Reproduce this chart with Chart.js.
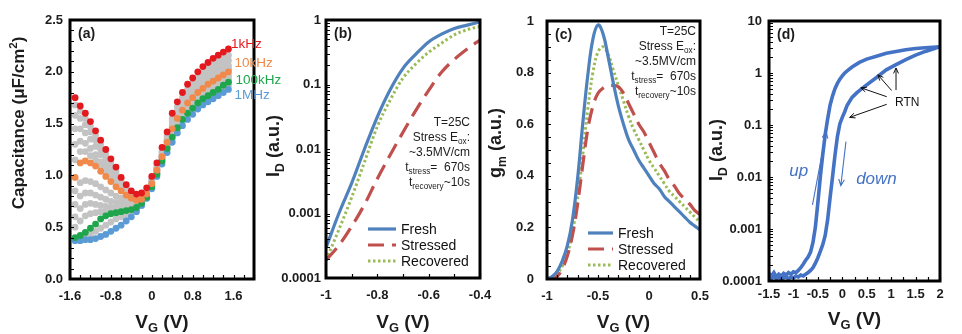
<!DOCTYPE html>
<html>
<head>
<meta charset="utf-8">
<script src="https://cdn.jsdelivr.net/npm/chart.js@4.4.0/dist/chart.umd.min.js"></script>
<style>
  html, body { margin: 0; padding: 0; background: #fff; }
  #wrap { position: relative; width: 962px; height: 334px; }
  #wrap canvas { position: absolute; left: 0; top: 0; }
</style>
</head>
<body>
<div id="wrap">
  <canvas id="cvA" width="962" height="334"></canvas>
  <canvas id="cvB" width="962" height="334"></canvas>
  <canvas id="cvC" width="962" height="334"></canvas>
  <canvas id="cvD" width="962" height="334"></canvas>
</div>
<script>
// ---- (a) C-V sweeps, one value per gate voltage step ----
const cvVoltage = [-1.5, -1.4, -1.3, -1.2, -1.1, -1.0, -0.9, -0.8, -0.7, -0.6, -0.5, -0.4, -0.3, -0.2, -0.1,
  0, 0.1, 0.2, 0.3, 0.4, 0.5, 0.6, 0.7, 0.8, 0.9, 1.0, 1.1, 1.2, 1.3, 1.4, 1.5];
const cap1kHz = [1.75, 1.67, 1.60, 1.52, 1.43, 1.34, 1.25, 1.16, 1.08, 0.98, 0.91, 0.85, 0.82, 0.83, 0.88,
  0.99, 1.12, 1.27, 1.42, 1.60, 1.71, 1.80, 1.88, 1.94, 2.00, 2.05, 2.09, 2.13, 2.16, 2.19, 2.22];
const cap10kHz = [0.98, 1.12, 1.14, 1.12, 1.09, 1.04, 0.99, 0.94, 0.89, 0.85, 0.81, 0.78, 0.76, 0.77, 0.82,
  0.92, 1.05, 1.18, 1.32, 1.45, 1.55, 1.63, 1.70, 1.75, 1.80, 1.84, 1.88, 1.91, 1.94, 1.97, 2.00];
const cap100kHz = [0.40, 0.42, 0.45, 0.49, 0.53, 0.58, 0.61, 0.63, 0.64, 0.65, 0.66, 0.67, 0.69, 0.73, 0.79,
  0.89, 1.01, 1.14, 1.26, 1.37, 1.46, 1.54, 1.60, 1.65, 1.70, 1.74, 1.77, 1.80, 1.83, 1.87, 1.90];
const cap1MHz = [0.37, 0.37, 0.38, 0.38, 0.39, 0.41, 0.43, 0.46, 0.49, 0.52, 0.56, 0.60, 0.65, 0.71, 0.78,
  0.87, 0.99, 1.11, 1.22, 1.32, 1.41, 1.48, 1.54, 1.59, 1.64, 1.68, 1.71, 1.74, 1.77, 1.80, 1.83];
// intermediate frequencies (grey)
const capGrey = [
  [1.68, 1.62, 1.55, 1.47, 1.39, 1.30, 1.21, 1.12, 1.04, 0.96, 0.89, 0.83, 0.80, 0.80, 0.85,
   0.96, 1.09, 1.23, 1.38, 1.55, 1.66, 1.75, 1.83, 1.89, 1.95, 1.99, 2.03, 2.07, 2.10, 2.13, 2.16],
  [1.58, 1.55, 1.49, 1.42, 1.34, 1.25, 1.17, 1.08, 1.01, 0.93, 0.87, 0.81, 0.78, 0.78, 0.84,
   0.95, 1.08, 1.22, 1.36, 1.52, 1.62, 1.71, 1.78, 1.84, 1.90, 1.94, 1.98, 2.02, 2.05, 2.08, 2.11],
  [1.45, 1.45, 1.41, 1.35, 1.28, 1.20, 1.12, 1.05, 0.98, 0.91, 0.85, 0.80, 0.77, 0.77, 0.83,
   0.94, 1.07, 1.20, 1.34, 1.49, 1.59, 1.68, 1.75, 1.81, 1.86, 1.90, 1.94, 1.97, 2.00, 2.03, 2.06],
  [1.30, 1.33, 1.31, 1.26, 1.20, 1.13, 1.07, 1.01, 0.95, 0.89, 0.84, 0.79, 0.76, 0.77, 0.82,
   0.93, 1.06, 1.19, 1.33, 1.47, 1.57, 1.66, 1.73, 1.78, 1.83, 1.87, 1.91, 1.94, 1.97, 2.00, 2.03],
  [1.15, 1.23, 1.23, 1.19, 1.15, 1.09, 1.03, 0.97, 0.92, 0.87, 0.82, 0.78, 0.76, 0.77, 0.82,
   0.92, 1.05, 1.18, 1.32, 1.46, 1.56, 1.64, 1.71, 1.77, 1.82, 1.86, 1.90, 1.93, 1.96, 1.99, 2.02],
  [0.85, 0.93, 0.95, 0.94, 0.92, 0.89, 0.86, 0.83, 0.80, 0.78, 0.76, 0.75, 0.74, 0.75, 0.80,
   0.91, 1.04, 1.17, 1.30, 1.43, 1.53, 1.61, 1.67, 1.72, 1.77, 1.81, 1.85, 1.88, 1.91, 1.94, 1.97],
  [0.72, 0.80, 0.83, 0.83, 0.81, 0.79, 0.77, 0.75, 0.74, 0.73, 0.72, 0.72, 0.72, 0.74, 0.79,
   0.90, 1.03, 1.16, 1.29, 1.41, 1.51, 1.59, 1.65, 1.70, 1.75, 1.79, 1.82, 1.85, 1.88, 1.91, 1.94],
  [0.60, 0.68, 0.72, 0.73, 0.72, 0.71, 0.70, 0.69, 0.69, 0.69, 0.69, 0.69, 0.70, 0.73, 0.79,
   0.90, 1.03, 1.16, 1.28, 1.40, 1.49, 1.57, 1.63, 1.68, 1.73, 1.77, 1.80, 1.83, 1.86, 1.89, 1.92],
  [0.50, 0.56, 0.61, 0.63, 0.64, 0.65, 0.65, 0.66, 0.66, 0.67, 0.67, 0.68, 0.69, 0.72, 0.78,
   0.89, 1.02, 1.15, 1.27, 1.38, 1.48, 1.56, 1.62, 1.67, 1.72, 1.76, 1.79, 1.82, 1.85, 1.88, 1.91],
  [0.38, 0.39, 0.41, 0.43, 0.46, 0.49, 0.52, 0.55, 0.58, 0.60, 0.62, 0.64, 0.67, 0.71, 0.78,
   0.88, 1.01, 1.13, 1.25, 1.35, 1.44, 1.52, 1.58, 1.63, 1.68, 1.72, 1.75, 1.78, 1.81, 1.84, 1.87]
];
const freqLabels = ['1kHz', '10kHz', '100kHz', '1MHz'];
const freqLabelPos = [[1.55, 2.28], [1.62, 2.09], [1.64, 1.93], [1.62, 1.78]];
const aTicksX = [-1.6, -0.8, 0, 0.8, 1.6];
const aTicksY = [0, 0.5, 1.0, 1.5, 2.0, 2.5];

// ---- (b) transfer curves ----
const idVg = [-1, -0.95, -0.9, -0.85, -0.8, -0.75, -0.7, -0.65, -0.6, -0.55, -0.5, -0.45, -0.4];
const idFresh = [2.95e-4, 1.0e-3, 2.95e-3, 1.0e-2, 3.16e-2, 8.3e-2, 0.178, 0.295, 0.457, 0.603, 0.741, 0.832, 0.933];
const idStressed = [1.9e-4, 3.2e-4, 6.3e-4, 1.38e-3, 3.47e-3, 8.1e-3, 1.82e-2, 3.98e-2, 8.1e-2, 0.155, 0.245, 0.355, 0.49];
const idRecovered = [1.9e-4, 5.6e-4, 1.78e-3, 6.3e-3, 2.24e-2, 5.75e-2, 0.126, 0.209, 0.316, 0.437, 0.589, 0.708, 0.794];
const bTicksX = [-1, -0.8, -0.6, -0.4];
const bTicksY = [1e-4, 1e-3, 1e-2, 1e-1, 1];

// ---- (c) transconductance ----
const gmVg = [-1, -0.95, -0.9, -0.85, -0.8, -0.75, -0.7, -0.65, -0.6, -0.55, -0.5, -0.45, -0.4, -0.35, -0.3, -0.25,
  -0.2, -0.15, -0.1, -0.05, 0, 0.05, 0.1, 0.15, 0.2, 0.25, 0.3, 0.35, 0.4, 0.45, 0.5];
const gmFresh = [0.0, 0.01, 0.03, 0.07, 0.13, 0.23, 0.39, 0.60, 0.79, 0.93, 0.985, 0.95, 0.86, 0.76, 0.67, 0.60,
  0.54, 0.50, 0.46, 0.43, 0.40, 0.37, 0.35, 0.32, 0.30, 0.28, 0.26, 0.24, 0.22, 0.205, 0.19];
const gmStressed = [0, 0, 0.01, 0.04, 0.09, 0.17, 0.29, 0.44, 0.58, 0.67, 0.72, 0.74, 0.75, 0.75, 0.745, 0.72,
  0.68, 0.64, 0.60, 0.57, 0.53, 0.49, 0.45, 0.42, 0.385, 0.36, 0.33, 0.31, 0.29, 0.265, 0.25];
const gmRecovered = [0, 0.005, 0.02, 0.05, 0.10, 0.18, 0.31, 0.48, 0.66, 0.80, 0.88, 0.90, 0.87, 0.81, 0.75, 0.69,
  0.63, 0.58, 0.54, 0.50, 0.46, 0.43, 0.40, 0.37, 0.34, 0.32, 0.30, 0.28, 0.26, 0.24, 0.22];
const cTicksX = [-1, -0.5, 0, 0.5];
const cTicksY = [0, 0.2, 0.4, 0.6, 0.8, 1];

// ---- (d) up / down sweeps with RTN ----
const upVg = [-1.5, -1.45, -1.4, -1.35, -1.3, -1.25, -1.2, -1.15, -1.1, -1.05, -1.0, -0.95, -0.9, -0.85, -0.8, -0.75,
  -0.7, -0.65, -0.6, -0.55, -0.5, -0.45, -0.4, -0.35, -0.3, -0.25, -0.2, -0.15, -0.1, -0.05, 0,
  0.05, 0.1, 0.2, 0.35, 0.5, 0.7, 0.9, 1.1, 1.3, 1.5, 1.7, 2.0];
const upId = [1.4e-4, 1.25e-4, 1.45e-4, 1.2e-4, 1.35e-4, 1.25e-4, 1.4e-4, 1.3e-4, 1.45e-4, 1.35e-4, 1.5e-4, 1.45e-4,
  1.6e-4, 1.8e-4, 2.1e-4, 2.5e-4, 2.9e-4, 3.6e-4, 5.5e-4, 1.1e-3, 3.2e-3, 1.0e-2, 2.7e-2, 6.5e-2, 0.13, 0.24,
  0.36, 0.50, 0.63, 0.76, 0.88, 1.0, 1.1, 1.3, 1.6, 1.85, 2.1, 2.4, 2.6, 2.8, 2.95, 3.05, 3.2];
const downVg = [-1.5, -1.45, -1.4, -1.35, -1.3, -1.25, -1.2, -1.15, -1.1, -1.05, -1.0, -0.95, -0.9, -0.85, -0.8, -0.75,
  -0.7, -0.65, -0.6, -0.55, -0.5, -0.45, -0.4, -0.35, -0.3, -0.25, -0.2, -0.15, -0.1, -0.05, 0,
  0.05, 0.1, 0.2, 0.3, 0.4, 0.5, 0.7, 0.9, 1.1, 1.3, 1.5, 1.7, 1.9, 2.0];
const downId = [1.2e-4, 1.1e-4, 1.25e-4, 1.1e-4, 1.2e-4, 1.05e-4, 1.15e-4, 1.2e-4, 1.1e-4, 1.2e-4, 1.15e-4, 1.25e-4,
  1.2e-4, 1.3e-4, 1.25e-4, 1.35e-4, 1.45e-4, 1.6e-4, 1.8e-4, 2.2e-4, 2.8e-4, 3.7e-4, 5.0e-4, 7.5e-4, 1.5e-3, 4.0e-3,
  1.0e-2, 2.6e-2, 6.0e-2, 0.105, 0.14, 0.18, 0.24, 0.34, 0.42, 0.50, 0.59, 0.82, 1.15, 1.45, 1.8, 2.2, 2.6, 3.0, 3.2];
const rtnTips = [[1.10, 1.25], [0.73, 0.92], [0.38, 0.52], [0.15, 0.14]];
const rtnTails = [[1.10, 0.47], [1.01, 0.46], [0.91, 0.35], [0.91, 0.25]];
const dTicksX = [-1.5, -1, -0.5, 0, 0.5, 1, 1.5, 2];
const dTicksY = [1e-4, 1e-3, 1e-2, 1e-1, 1, 10];

const FONT = "'Liberation Sans', Arial, Helvetica, sans-serif";
const INK = '#1c1c1c';
const W = 962, H = 334;

// draws a run of text pieces; a piece is [text] or [text, 'sub'|'sup']
function richText(ctx, parts, x, y, o) {
  const size = o.size;
  const font = s => `${o.style || 'normal'} ${o.weight || 'normal'} ${s}px ${FONT}`;
  const pieces = parts.map(p => {
    const kind = p[1] || '';
    const s = kind ? size * 0.68 : size;
    ctx.font = font(s);
    return { t: p[0], kind, s, w: ctx.measureText(p[0]).width };
  });
  const total = pieces.reduce((acc, p) => acc + p.w, 0);
  ctx.save();
  ctx.translate(x, y);
  if (o.angle) ctx.rotate(o.angle);
  ctx.fillStyle = o.color || INK;
  ctx.textBaseline = 'alphabetic';
  ctx.textAlign = 'left';
  let cx = o.align === 'left' ? 0 : o.align === 'right' ? -total : -total / 2;
  pieces.forEach(p => {
    ctx.font = font(p.s);
    let dy = size * 0.36;
    if (p.kind === 'sub') dy += size * 0.24;
    if (p.kind === 'sup') dy -= size * 0.42;
    ctx.fillText(p.t, cx, dy);
    cx += p.w;
  });
  ctx.restore();
}

function arrow(ctx, x0, y0, x1, y1, head) {
  const ang = Math.atan2(y1 - y0, x1 - x0);
  ctx.beginPath();
  ctx.moveTo(x0, y0);
  ctx.lineTo(x1, y1);
  ctx.moveTo(x1 - head * Math.cos(ang - 0.42), y1 - head * Math.sin(ang - 0.42));
  ctx.lineTo(x1, y1);
  ctx.lineTo(x1 - head * Math.cos(ang + 0.42), y1 - head * Math.sin(ang + 0.42));
  ctx.stroke();
}

function steps(from, to, step) {
  const out = [];
  for (let v = from; v <= to + 1e-9; v += step) out.push(+v.toFixed(4));
  return out;
}

function logMinors(lo, hi) {
  const out = [];
  for (let d = lo; d < hi; d++) {
    for (let k = 1; k <= 9; k++) out.push(k * Math.pow(10, d));
  }
  out.push(Math.pow(10, hi));
  return out;
}

// frame, inward tick marks, titles and per-panel annotations
const panelDecor = {
  id: 'panelDecor',
  afterDatasetsDraw(chart, args, o) {
    const { ctx, chartArea: a } = chart;
    const sx = chart.scales.x, sy = chart.scales.y;
    ctx.save();
    ctx.strokeStyle = '#000';
    ctx.lineWidth = 1.2;
    ctx.beginPath();
    o.xMarks.forEach(v => {
      const p = Math.round(sx.getPixelForValue(v)) + 0.5;
      ctx.moveTo(p, a.bottom);
      ctx.lineTo(p, a.bottom - o.tick);
    });
    o.yMarks.forEach(v => {
      const p = Math.round(sy.getPixelForValue(v)) + 0.5;
      ctx.moveTo(a.left, p);
      ctx.lineTo(a.left + o.tick, p);
    });
    ctx.stroke();
    ctx.lineWidth = 3;
    ctx.strokeRect(a.left, a.top, a.width, a.height);

    richText(ctx, o.xTitle, (a.left + a.right) / 2, o.xTitleY, { size: 19, weight: 'bold' });
    richText(ctx, o.yTitle[0], o.yTitle[1], o.yTitle[2], { size: o.yTitle[3], weight: 'bold', angle: -Math.PI / 2 });
    richText(ctx, [[o.tag]], a.left + 8, a.top + 13, { size: 14, weight: 'bold', align: 'left' });
    if (o.extra) o.extra(ctx, a, sx, sy, chart);
    ctx.restore();
  }
};

function axis(type, min, max, ticks, pad, fit, fmt) {
  return {
    type, min, max,
    grid: { display: false, drawTicks: false },
    border: { display: false },
    afterBuildTicks: s => { s.ticks = ticks.map(v => ({ value: v })); },
    afterFit: fit,
    ticks: {
      autoSkip: false, maxRotation: 0, minRotation: 0, padding: pad, color: INK,
      font: { family: FONT, size: 13, weight: 'bold' },
      callback: fmt || (v => String(v))
    }
  };
}

function makePanel(id, box, type, datasets, xAxis, yAxis, decor) {
  return new Chart(document.getElementById(id), {
    type,
    data: { datasets },
    options: {
      responsive: false,
      animation: false,
      devicePixelRatio: 1,
      events: [],
      layout: { padding: { left: 0, top: box.top, right: W - box.right, bottom: 0 } },
      plugins: { legend: { display: false }, tooltip: { enabled: false }, panelDecor: decor },
      scales: {
        x: axis(xAxis.type || 'linear', xAxis.min, xAxis.max, xAxis.ticks, xAxis.pad,
          s => { s.height = H - box.bottom; }, xAxis.fmt),
        y: axis(yAxis.type || 'linear', yAxis.min, yAxis.max, yAxis.ticks, yAxis.pad,
          s => { s.width = box.left; }, yAxis.fmt)
      }
    },
    plugins: [panelDecor]
  });
}

const xy = (xs, ys) => xs.map((x, i) => ({ x, y: ys[i] }));
const lineSet = (xs, ys, color, dash, width, monotone) => ({
  data: xy(xs, ys), borderColor: color, borderDash: dash, borderWidth: width,
  pointRadius: 0, fill: false, tension: 0.4, cubicInterpolationMode: monotone ? 'monotone' : 'default'
});
const vgTitle = [['V'], ['G', 'sub'], [' (V)']];

// (a)
const freqColors = ['#e3191e', '#f0894a', '#1fa54c', '#5b9bd5'];
const dotSet = (vals, color) => ({
  data: xy(cvVoltage, vals), backgroundColor: color, borderWidth: 0, pointRadius: 3.4, showLine: false
});
makePanel('cvA', { left: 70, right: 254, top: 20, bottom: 279 }, 'scatter',
  [cap1kHz, cap10kHz, cap100kHz, cap1MHz].map((v, i) => dotSet(v, freqColors[i]))
    .concat(capGrey.map(v => dotSet(v, '#c3c3c3'))),
  { min: -1.6, max: 2.0, ticks: aTicksX, pad: 10 },
  { min: 0, max: 2.5, ticks: aTicksY, pad: 7, fmt: v => v.toFixed(1) },
  {
    xMarks: steps(-1.6, 2.0, 0.2), yMarks: steps(0, 2.5, 0.1), tick: 4,
    xTitle: vgTitle, xTitleY: 321,
    yTitle: [[['Capacitance (\u03bcF/cm'], ['2', 'sup'], [')']], 18, 123, 17],
    tag: '(a)',
    extra(ctx, a, sx, sy) {
      freqLabels.forEach((t, i) => {
        richText(ctx, [[t]], sx.getPixelForValue(freqLabelPos[i][0]), sy.getPixelForValue(freqLabelPos[i][1]),
          { size: 13.5, align: 'left', color: freqColors[i] });
      });
    }
  });

// shared stress annotation lines for (b) and (c)
const stressNote = [
  [['T=25C']],
  [['Stress E'], ['ox', 'sub'], [':']],
  [['~3.5MV/cm']],
  [['t'], ['stress', 'sub'], ['=  670s']],
  [['t'], ['recovery', 'sub'], ['~10s']]
];
const seriesNames = ['Fresh', 'Stressed', 'Recovered'];
function drawLegend(ctx, chart, x0, x1, y0) {
  chart.data.datasets.forEach((ds, i) => {
    const y = y0 + i * 16;
    ctx.save();
    ctx.strokeStyle = ds.borderColor;
    ctx.lineWidth = ds.borderWidth;
    ctx.setLineDash(ds.borderDash || []);
    ctx.beginPath();
    ctx.moveTo(x0, y);
    ctx.lineTo(x1, y);
    ctx.stroke();
    ctx.restore();
    richText(ctx, [[seriesNames[i]]], x1 + 5, y, { size: 14, align: 'left', color: '#111' });
  });
}
const FRESH = '#4f81bd', STRESSED = '#c0504d', RECOVERED = '#9bbb59';

// (b)
makePanel('cvB', { left: 326, right: 480, top: 20, bottom: 278 }, 'line',
  [lineSet(idVg, idFresh, FRESH, [], 3.2, true),
   lineSet(idVg, idStressed, STRESSED, [16, 8], 3.2, true),
   lineSet(idVg, idRecovered, RECOVERED, [2.5, 2.5], 3, true)],
  { min: -1, max: -0.4, ticks: bTicksX, pad: 10 },
  { type: 'logarithmic', min: 1e-4, max: 1, ticks: bTicksY, pad: 5 },
  {
    xMarks: steps(-1, -0.4, 0.1), yMarks: logMinors(-4, 0), tick: 4,
    xTitle: vgTitle, xTitleY: 321,
    yTitle: [[['I'], ['D', 'sub'], [' (a.u.)']], 273, 146, 18],
    tag: '(b)',
    extra(ctx, a, sx, sy, chart) {
      stressNote.forEach((line, i) => richText(ctx, line, a.right - 10, 122 + i * 15, { size: 12, align: 'right' }));
      drawLegend(ctx, chart, 368, 396, 229);
    }
  });

// (c)
makePanel('cvC', { left: 547, right: 700, top: 21, bottom: 279 }, 'line',
  [lineSet(gmVg, gmFresh, FRESH, [], 3.2, false),
   lineSet(gmVg, gmStressed, STRESSED, [16, 8], 3.2, false),
   lineSet(gmVg, gmRecovered, RECOVERED, [2.5, 2.5], 3, false)],
  { min: -1, max: 0.5, ticks: cTicksX, pad: 10 },
  { min: 0, max: 1, ticks: cTicksY, pad: 13 },
  {
    xMarks: steps(-1, 0.5, 0.1), yMarks: steps(0, 1, 0.05), tick: 4,
    xTitle: vgTitle, xTitleY: 321,
    yTitle: [[['g'], ['m', 'sub'], [' (a.u.)']], 495, 143, 18],
    tag: '(c)',
    extra(ctx, a, sx, sy, chart) {
      stressNote.forEach((line, i) => richText(ctx, line, a.right - 4, 31 + i * 15, { size: 12, align: 'right' }));
      drawLegend(ctx, chart, 588, 613, 233);
    }
  });

// (d)
const SWEEP = '#4472c4';
const sweepSet = (xs, ys) => ({
  data: xy(xs, ys), borderColor: SWEEP, borderWidth: 3.6, pointRadius: 0, fill: false, tension: 0
});
makePanel('cvD', { left: 769, right: 940, top: 21, bottom: 281 }, 'line',
  [sweepSet(upVg, upId), sweepSet(downVg, downId)],
  { min: -1.5, max: 2, ticks: dTicksX, pad: 6 },
  { type: 'logarithmic', min: 1e-4, max: 10, ticks: dTicksY, pad: 7 },
  {
    xMarks: steps(-1.5, 2, 0.25), yMarks: logMinors(-4, 1), tick: 4,
    xTitle: vgTitle, xTitleY: 318,
    yTitle: [[['I'], ['D', 'sub'], [' (a.u.)']], 716, 150, 18],
    tag: '(d)',
    extra(ctx, a, sx, sy) {
      const px = p => [sx.getPixelForValue(p[0]), sy.getPixelForValue(p[1])];
      ctx.strokeStyle = '#111';
      ctx.lineWidth = 1;
      rtnTips.forEach((tip, i) => {
        const [x0, y0] = px(rtnTails[i]);
        const [x1, y1] = px(tip);
        arrow(ctx, x0, y0, x1, y1, 6);
      });
      const [rx, ry] = px([1.08, 0.28]);
      richText(ctx, [['RTN']], rx, ry, { size: 12, align: 'left', color: '#111' });

      ctx.strokeStyle = SWEEP;
      ctx.lineWidth = 1.1;
      let p0 = px([-0.61, 0.0029]), p1 = px([-0.33, 0.074]);
      arrow(ctx, p0[0], p0[1], p1[0], p1[1], 7);
      p0 = px([0.075, 0.048]); p1 = px([-0.03, 0.0068]);
      arrow(ctx, p0[0], p0[1], p1[0], p1[1], 7);
      let t = px([-0.89, 0.0136]);
      richText(ctx, [['up']], t[0], t[1], { size: 17, style: 'italic', color: SWEEP });
      t = px([0.70, 0.0095]);
      richText(ctx, [['down']], t[0], t[1], { size: 17, style: 'italic', color: SWEEP });
    }
  });
</script>
</body>
</html>
